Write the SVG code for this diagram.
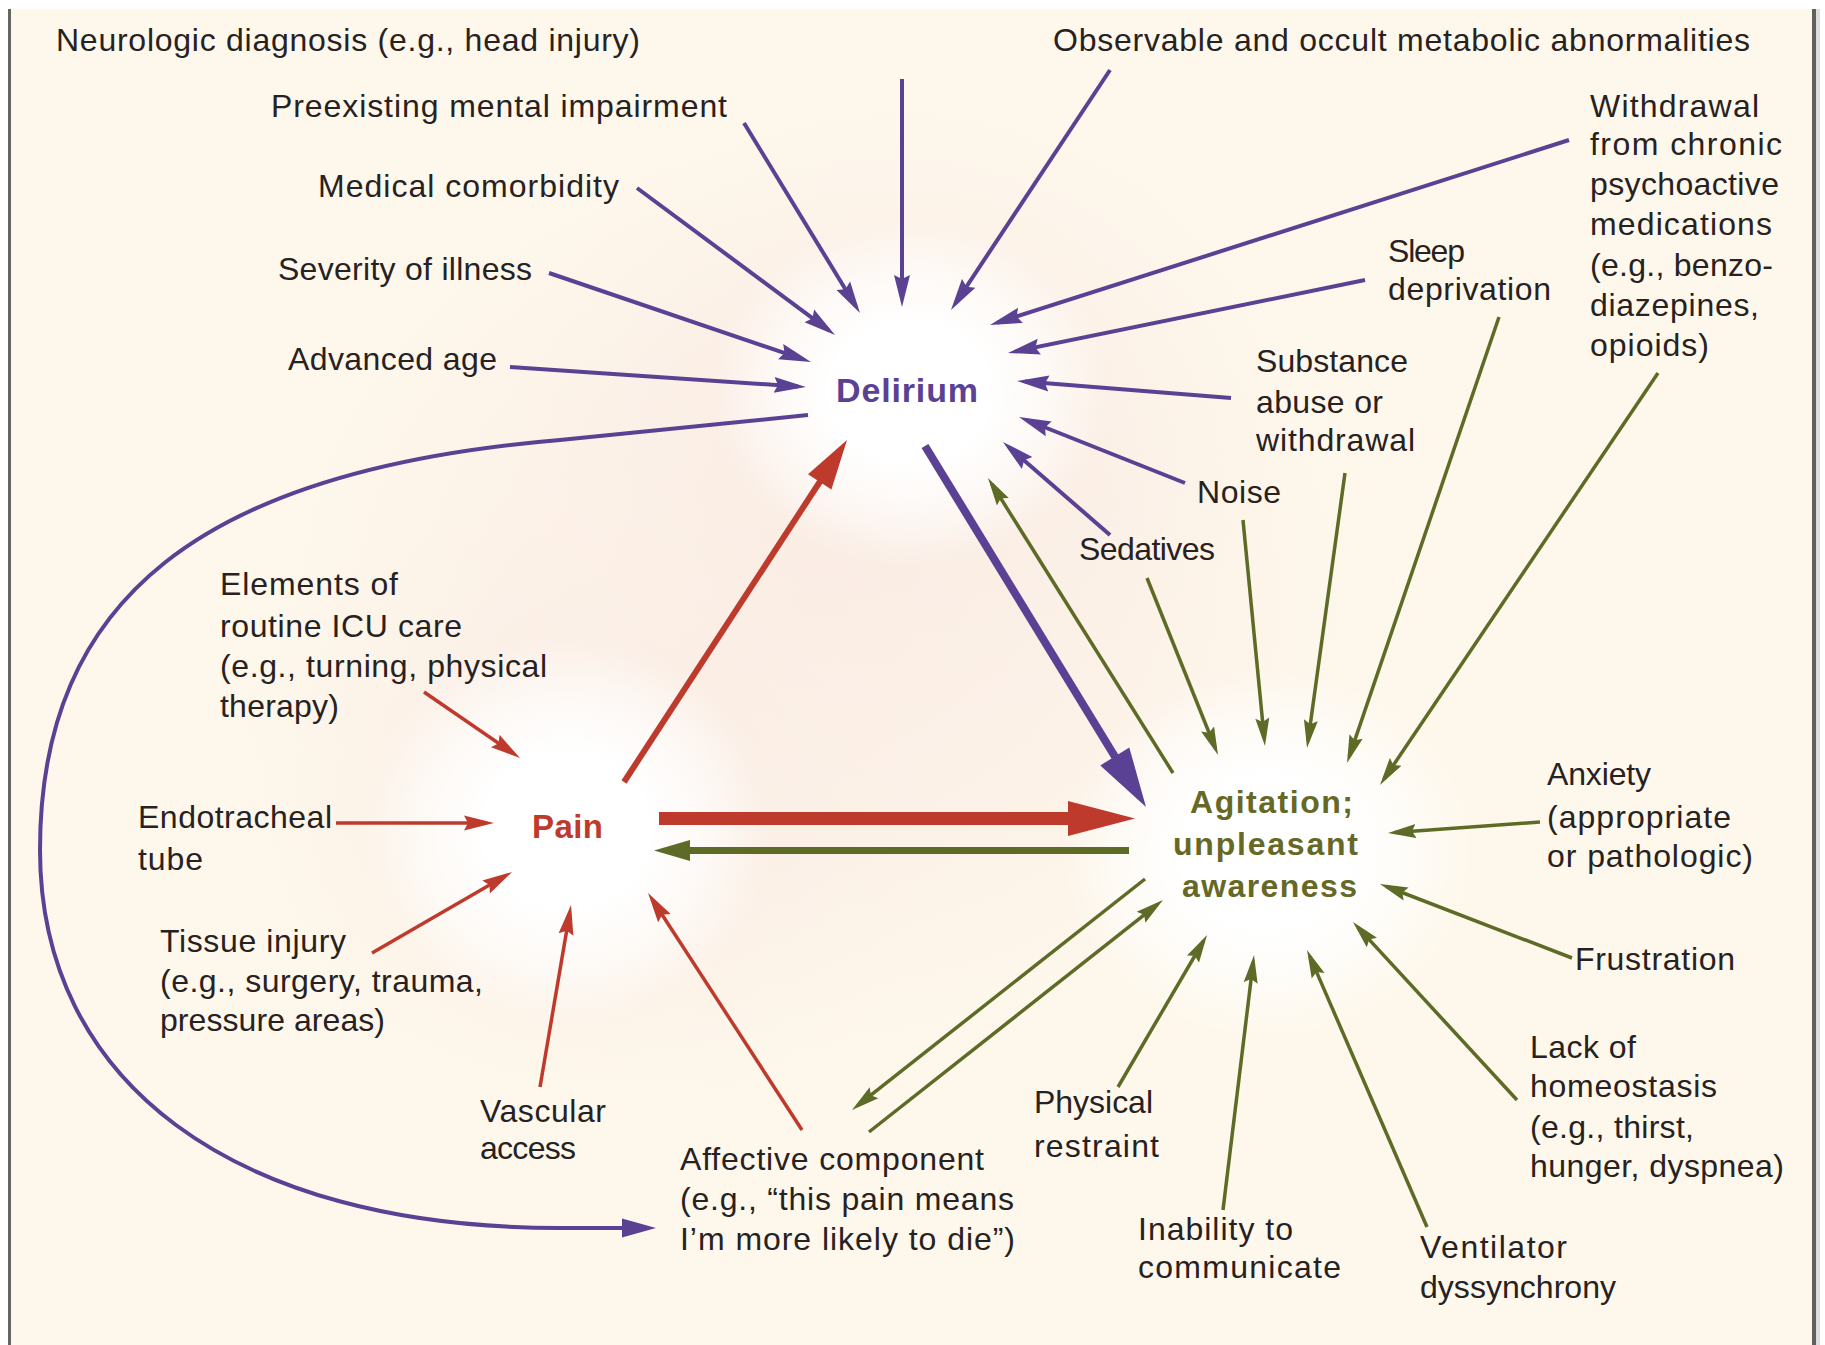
<svg xmlns="http://www.w3.org/2000/svg" width="1825" height="1345" viewBox="0 0 1825 1345">
  <style>
    .t { font-family: "Liberation Sans", Arial, sans-serif; font-size: 32px; fill: #272221; }
    .hub { font-family: "Liberation Sans", Arial, sans-serif; font-weight: bold; }
    .pu { fill: none; stroke: #5b4193; stroke-width: 4; }
    .rd { fill: none; stroke: #bd3a2c; stroke-width: 3.5; }
    .gr { fill: none; stroke: #5d6b26; stroke-width: 3.5; }
  </style>
  <defs>
    <marker id="hP" markerUnits="userSpaceOnUse" markerWidth="32" markerHeight="18" viewBox="0 0 32 18" refX="24" refY="9" orient="auto">
      <path d="M0,1 L32,9 L0,17 L4,9 z" fill="#5b4193"/>
    </marker>
    <marker id="hR" markerUnits="userSpaceOnUse" markerWidth="30" markerHeight="16" viewBox="0 0 30 16" refX="22" refY="8" orient="auto">
      <path d="M0,0.5 L30,8 L0,15.5 L4,8 z" fill="#bd3a2c"/>
    </marker>
    <marker id="hG" markerUnits="userSpaceOnUse" markerWidth="28" markerHeight="15" viewBox="0 0 28 15" refX="21" refY="7.5" orient="auto">
      <path d="M0,0.5 L28,7.5 L0,14.5 L4,7.5 z" fill="#5d6b26"/>
    </marker>
    <radialGradient id="glow">
      <stop offset="0" stop-color="#ffffff" stop-opacity="1"/>
      <stop offset="0.4" stop-color="#ffffff" stop-opacity="1"/>
      <stop offset="0.7" stop-color="#ffffff" stop-opacity="0.6"/>
      <stop offset="1" stop-color="#ffffff" stop-opacity="0"/>
    </radialGradient>
    <radialGradient id="haze">
      <stop offset="0" stop-color="#f8e6df" stop-opacity="0.55"/>
      <stop offset="0.5" stop-color="#f9e9e2" stop-opacity="0.4"/>
      <stop offset="1" stop-color="#fbefe7" stop-opacity="0"/>
    </radialGradient>
  </defs>

  <!-- page and frame -->
  <rect x="0" y="0" width="1825" height="1345" fill="#ffffff"/>
  <rect x="10" y="9" width="1802" height="1336" fill="#fef8ec"/>
  <rect x="8" y="9" width="3" height="1336" fill="#666666"/>
  <rect x="1812" y="9" width="4" height="1336" fill="#606060"/>
  <rect x="1816" y="9" width="4" height="1336" fill="#dddddd"/>

  <!-- soft halo behind the hubs -->
  <g id="halo">
    <ellipse cx="820" cy="600" rx="620" ry="520" fill="url(#haze)"/>
    <ellipse cx="900" cy="420" rx="400" ry="330" fill="url(#haze)" opacity="0.7"/>
    <ellipse cx="570" cy="820" rx="380" ry="330" fill="url(#haze)" opacity="0.7"/>
  </g>

  <!-- hub nodes -->
  <g id="delirium">
    <ellipse cx="910" cy="392" rx="200" ry="175" fill="url(#glow)"/>
    <text class="hub" x="836" y="402" font-size="34" fill="#5b4193" textLength="142">Delirium</text>
  </g>
  <g id="pain">
    <ellipse cx="567" cy="830" rx="205" ry="195" fill="url(#glow)"/>
    <text class="hub" x="532" y="838" font-size="33" fill="#bd3a2c" textLength="71">Pain</text>
  </g>
  <g id="agitation">
    <ellipse cx="1266" cy="852" rx="205" ry="185" fill="url(#glow)"/>
    <text class="hub" font-size="32" fill="#666826">
      <tspan x="1190" y="813" textLength="163">Agitation;</tspan>
      <tspan x="1173" y="855" textLength="185">unpleasant</tspan>
      <tspan x="1182" y="897" textLength="175">awareness</tspan>
    </text>
  </g>

  <!-- delirium risk factors -->
  <g id="neurologic"><text class="t" x="56" y="51" textLength="584">Neurologic diagnosis (e.g., head injury)</text></g>
  <g id="metabolic"><text class="t" x="1053" y="51" textLength="697">Observable and occult metabolic abnormalities</text></g>
  <g id="preexisting"><text class="t" x="271" y="117" textLength="456">Preexisting mental impairment</text></g>
  <g id="comorbidity"><text class="t" x="318" y="197" textLength="301">Medical comorbidity</text></g>
  <g id="severity"><text class="t" x="278" y="280" textLength="254">Severity of illness</text></g>
  <g id="age"><text class="t" x="288" y="370" textLength="209">Advanced age</text></g>
  <g id="withdrawal-chronic">
    <text class="t">
      <tspan x="1590" y="117" textLength="169">Withdrawal</tspan>
      <tspan x="1590" y="155" textLength="192">from chronic</tspan>
      <tspan x="1590" y="195" textLength="189">psychoactive</tspan>
      <tspan x="1590" y="235" textLength="182">medications</tspan>
      <tspan x="1590" y="276" textLength="183">(e.g., benzo-</tspan>
      <tspan x="1590" y="316" textLength="169">diazepines,</tspan>
      <tspan x="1590" y="356" textLength="119">opioids)</tspan>
    </text>
  </g>
  <g id="sleep">
    <text class="t">
      <tspan x="1388" y="262" textLength="77">Sleep</tspan>
      <tspan x="1388" y="300" textLength="163">deprivation</tspan>
    </text>
  </g>
  <g id="substance">
    <text class="t">
      <tspan x="1256" y="372" textLength="152">Substance</tspan>
      <tspan x="1256" y="413" textLength="127">abuse or</tspan>
      <tspan x="1256" y="451" textLength="159">withdrawal</tspan>
    </text>
  </g>
  <g id="noise"><text class="t" x="1197" y="503" textLength="84">Noise</text></g>
  <g id="sedatives"><text class="t" x="1079" y="560" textLength="136">Sedatives</text></g>

  <!-- pain sources -->
  <g id="icu-care">
    <text class="t">
      <tspan x="220" y="595" textLength="178">Elements of</tspan>
      <tspan x="220" y="637" textLength="242">routine ICU care</tspan>
      <tspan x="220" y="677" textLength="327">(e.g., turning, physical</tspan>
      <tspan x="220" y="717" textLength="119">therapy)</tspan>
    </text>
  </g>
  <g id="endotracheal">
    <text class="t">
      <tspan x="138" y="828" textLength="194">Endotracheal</tspan>
      <tspan x="138" y="870" textLength="65">tube</tspan>
    </text>
  </g>
  <g id="tissue">
    <text class="t">
      <tspan x="160" y="952" textLength="186">Tissue injury</tspan>
      <tspan x="160" y="992" textLength="323">(e.g., surgery, trauma,</tspan>
      <tspan x="160" y="1031" textLength="225">pressure areas)</tspan>
    </text>
  </g>
  <g id="vascular">
    <text class="t">
      <tspan x="480" y="1122" textLength="126">Vascular</tspan>
      <tspan x="480" y="1159" textLength="96">access</tspan>
    </text>
  </g>
  <g id="affective">
    <text class="t">
      <tspan x="680" y="1170" textLength="304">Affective component</tspan>
      <tspan x="680" y="1210" textLength="334">(e.g., “this pain means</tspan>
      <tspan x="680" y="1250" textLength="335">I’m more likely to die”)</tspan>
    </text>
  </g>

  <!-- agitation sources -->
  <g id="restraint">
    <text class="t">
      <tspan x="1034" y="1113" textLength="119">Physical</tspan>
      <tspan x="1034" y="1157" textLength="125">restraint</tspan>
    </text>
  </g>
  <g id="communicate">
    <text class="t">
      <tspan x="1138" y="1240" textLength="155">Inability to</tspan>
      <tspan x="1138" y="1278" textLength="203">communicate</tspan>
    </text>
  </g>
  <g id="ventilator">
    <text class="t">
      <tspan x="1420" y="1258" textLength="147">Ventilator</tspan>
      <tspan x="1420" y="1298" textLength="196">dyssynchrony</tspan>
    </text>
  </g>
  <g id="homeostasis">
    <text class="t">
      <tspan x="1530" y="1058" textLength="106">Lack of</tspan>
      <tspan x="1530" y="1097" textLength="187">homeostasis</tspan>
      <tspan x="1530" y="1138" textLength="164">(e.g., thirst,</tspan>
      <tspan x="1530" y="1177" textLength="254">hunger, dyspnea)</tspan>
    </text>
  </g>
  <g id="frustration"><text class="t" x="1575" y="970" textLength="160">Frustration</text></g>
  <g id="anxiety">
    <text class="t">
      <tspan x="1547" y="785" textLength="104">Anxiety</tspan>
      <tspan x="1547" y="828" textLength="184">(appropriate</tspan>
      <tspan x="1547" y="867" textLength="206">or pathologic)</tspan>
    </text>
  </g>

  <!-- connectors -->
  <g id="connectors">
    <!-- into delirium -->
    <line class="pu" x1="902" y1="79" x2="902" y2="299" marker-end="url(#hP)"/>
    <line class="pu" x1="1110" y1="70" x2="955.4" y2="303.3" marker-end="url(#hP)"/>
    <line class="pu" x1="744" y1="123" x2="855.8" y2="306.2" marker-end="url(#hP)"/>
    <line class="pu" x1="637" y1="188" x2="828.6" y2="330.2" marker-end="url(#hP)"/>
    <line class="pu" x1="549" y1="273" x2="803.4" y2="359.4" marker-end="url(#hP)"/>
    <line class="pu" x1="510" y1="367" x2="798" y2="386.5" marker-end="url(#hP)"/>
    <line class="pu" x1="1569" y1="140" x2="997.6" y2="322.6" marker-end="url(#hP)"/>
    <line class="pu" x1="1365" y1="280" x2="1015.8" y2="351.4" marker-end="url(#hP)"/>
    <line class="pu" x1="1231" y1="398" x2="1025" y2="381.6" marker-end="url(#hP)"/>
    <line class="pu" x1="1185" y1="483" x2="1026.4" y2="420" marker-end="url(#hP)"/>
    <line class="pu" x1="1110" y1="535" x2="1009" y2="447.2" marker-end="url(#hP)"/>

    <!-- delirium to affective component -->
    <path class="pu" d="M808,415 L560,440 C200,470 40,600 40,850 C40,1080 230,1228 560,1228 L628,1228"/>
    <polygon points="622,1218.5 656,1228 622,1237.5" fill="#5b4193"/>

    <!-- delirium to agitation (heavy) -->
    <line x1="925" y1="446" x2="1117" y2="760" stroke="#5b4193" stroke-width="8"/>
    <polygon points="1100.3,765.4 1146,807 1129.3,747.6" fill="#5b4193"/>

    <!-- pain to delirium (heavy) -->
    <line x1="624" y1="782" x2="821" y2="480" stroke="#bd3a2c" stroke-width="6"/>
    <polygon points="831.4,489.5 847,440 808,474.3" fill="#bd3a2c"/>

    <!-- pain to agitation (heavy) -->
    <rect x="659" y="812" width="414" height="13" fill="#bd3a2c"/>
    <polygon points="1068,801 1135,818.5 1068,836" fill="#bd3a2c"/>

    <!-- agitation to pain -->
    <rect x="686" y="847" width="443" height="7" fill="#5d6b26"/>
    <polygon points="690,840 654,850.5 690,861" fill="#5d6b26"/>

    <!-- into pain -->
    <line class="rd" x1="424" y1="692" x2="513.4" y2="753.5" marker-end="url(#hR)"/>
    <line class="rd" x1="336" y1="823" x2="486" y2="823" marker-end="url(#hR)"/>
    <line class="rd" x1="372" y1="953" x2="505.1" y2="876" marker-end="url(#hR)"/>
    <line class="rd" x1="540" y1="1087" x2="569.7" y2="912.9" marker-end="url(#hR)"/>
    <line class="rd" x1="802" y1="1130" x2="652.4" y2="899.7" marker-end="url(#hR)"/>

    <!-- agitation to delirium -->
    <line class="gr" x1="1173" y1="773" x2="991.7" y2="483.9" marker-end="url(#hG)"/>

    <!-- into agitation -->
    <line class="gr" x1="1147" y1="578" x2="1215.4" y2="748.5" marker-end="url(#hG)"/>
    <line class="gr" x1="1243" y1="520" x2="1264.3" y2="739" marker-end="url(#hG)"/>
    <line class="gr" x1="1345" y1="473" x2="1308" y2="741" marker-end="url(#hG)"/>
    <line class="gr" x1="1499" y1="317" x2="1349.3" y2="756.4" marker-end="url(#hG)"/>
    <line class="gr" x1="1658" y1="373" x2="1383.9" y2="779.2" marker-end="url(#hG)"/>
    <line class="gr" x1="1540" y1="822" x2="1395" y2="832.5" marker-end="url(#hG)"/>
    <line class="gr" x1="1572" y1="958" x2="1386.5" y2="886.5" marker-end="url(#hG)"/>
    <line class="gr" x1="1517" y1="1100" x2="1357.7" y2="927.1" marker-end="url(#hG)"/>
    <line class="gr" x1="1427" y1="1227" x2="1309.8" y2="956.4" marker-end="url(#hG)"/>
    <line class="gr" x1="1223" y1="1210" x2="1253.2" y2="962" marker-end="url(#hG)"/>
    <line class="gr" x1="1118" y1="1087" x2="1203.5" y2="941" marker-end="url(#hG)"/>

    <!-- agitation and affective component, both ways -->
    <line class="gr" x1="1145" y1="879" x2="857.5" y2="1105.7" marker-end="url(#hG)"/>
    <line class="gr" x1="869" y1="1132" x2="1157.5" y2="904.3" marker-end="url(#hG)"/>
  </g>
</svg>
